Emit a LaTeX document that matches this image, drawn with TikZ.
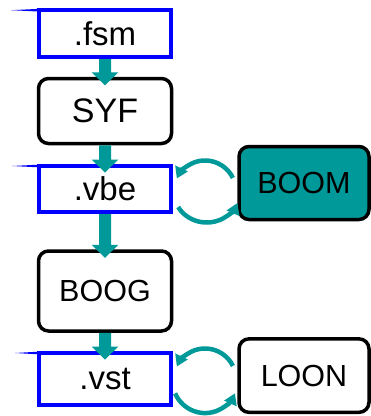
\documentclass[tikz,border=0pt]{standalone}
\usepackage{fontspec}
\setmainfont{Liberation Sans}
\usetikzlibrary{calc,arrows.meta}
\definecolor{tealc}{RGB}{0,153,153}
\newcommand\blkarrow[2]{%
  \fill[tealc] let \p1=(#1.south), \p2=(#2.north) in
    (\x1-6pt,\y1) -- (\x1-6pt,\y2+4.5pt) -- (\x1-13.5pt,\y2+4.5pt) --
    (\x1,\y2-8.5pt) -- (\x1+13.5pt,\y2+4.5pt) -- (\x1+6pt,\y2+4.5pt) --
    (\x1+6pt,\y1) -- cycle;}
\newcommand\wedgetab[2]{%
  \fill[blue] let \p1=(#1.north west) in
    (\x1-#2pt,\y1-2pt) -- (\x1+1pt,\y1-0.7pt) -- (\x1+1pt,\y1-3.3pt) -- cycle;}
\begin{document}
\begin{tikzpicture}[x=1pt,y=-1pt,
  filebox/.style={draw=blue, line width=4pt, fill=white, minimum width=132pt,
    inner sep=0pt, font=\fontsize{33}{36}\selectfont},
  toolbox/.style={draw=black, line width=3.5pt, fill=white, rounded corners=10pt,
    minimum width=133pt, inner sep=0pt, font=\fontsize{30.5}{34}\selectfont},
  loopline/.style={tealc, line width=4.5pt, -{Triangle[width=14pt,length=11pt,line width=0pt]}},
]
\useasboundingbox (0,0) rectangle (371,416);

\node[filebox, minimum height=47pt] (fsm) at (105,33.7) {.fsm};
\node[toolbox, minimum height=65pt, font=\fontsize{34}{38}\selectfont] (syf) at (105,111) {SYF};
\node[filebox, minimum height=46pt] (vbe) at (105,189) {.vbe};
\node[toolbox, minimum height=80pt] (boog) at (105,291) {BOOG};
\node[filebox, minimum height=52pt] (vst) at (105,379) {.vst};
\node[toolbox, fill=tealc, minimum width=130pt, minimum height=73pt] (boom) at (304,183) {BOOM};
\node[toolbox, minimum width=130pt, minimum height=73.5pt] (loon) at (304,375.6) {LOON};

\wedgetab{fsm}{26}
\wedgetab{vbe}{25}
\wedgetab{vst}{22}

\blkarrow{fsm}{syf}
\blkarrow{syf}{vbe}
\blkarrow{vbe}{boog}
\blkarrow{boog}{vst}

\coordinate (c1) at (205,191.5);
\coordinate (c2) at (205,379.5);
\draw[loopline] ($(c1)+(26:31pt)$) arc[start angle=26, end angle=155, radius=31pt];
\draw[loopline] ($(c1)+(210:31pt)$) arc[start angle=210, end angle=338, x radius=33pt, y radius=31pt];
\draw[loopline] ($(c2)+(26:31pt)$) arc[start angle=26, end angle=155, radius=31pt];
\draw[loopline] ($(c2)+(205:33pt)$) arc[start angle=205, end angle=335, x radius=33pt, y radius=34pt];
\end{tikzpicture}
\end{document}
